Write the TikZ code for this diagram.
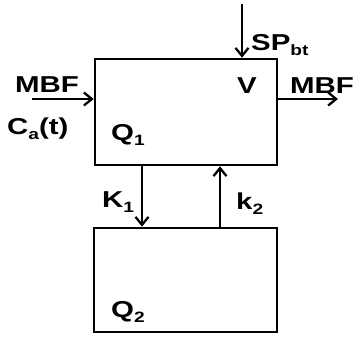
\documentclass[tikz,border=0pt]{standalone}
\usepackage{fontspec}
\setmainfont{Liberation Sans}
\usetikzlibrary{arrows.meta}
\newcommand\xw[1]{\scalebox{1.28}[1]{#1}}
\newcommand\sbs[1]{\raisebox{-5bp}{\fontsize{15bp}{16bp}\selectfont #1}}
\begin{document}
\begin{tikzpicture}[x=1bp,y=-1bp,
  lbl/.style={font=\fontsize{23bp}{26bp}\selectfont\bfseries, inner sep=0pt, anchor=base west},
  boxst/.style={draw, line width=2.6bp},
  arr/.style={line width=2.3bp, -{Straight Barb[length=8bp,width=13bp,line width=2.3bp]}}]
\useasboundingbox (0,0) rectangle (357,338);
\node[boxst, minimum width=182bp, minimum height=106bp, inner sep=0pt] (b1) at (186,112) {};
\node[boxst, minimum width=183bp, minimum height=104bp, inner sep=0pt] (b2) at (185.5,280) {};
\coordinate (spt) at (242,4);
\coordinate (inl) at (32,99);
\coordinate (outr) at (338,99);
\draw[arr] (spt) -- (spt |- b1.north);
\draw[arr] (inl) -- (inl -| b1.west);
\draw[arr] (outr -| b1.east) -- (outr);
\draw[arr] (142,165) coordinate (k1s) -- (k1s |- b2.north);
\draw[arr] (220,228) coordinate (k2s) -- (k2s |- b1.south);
\node[lbl] (mbf1) at (15,92) {\xw{MBF}};
\node[lbl] (ca) at (7,134) {\xw{C\sbs{a}(t)}};
\node[lbl] (q1) at (111,140) {\xw{Q\sbs{1}}};
\node[lbl] (v) at (237,93) {\xw{V}};
\node[lbl] (mbf2) at (290,93) {\xw{MBF}};
\node[lbl] (sp) at (251,50) {\xw{SP\sbs{bt}}};
\node[lbl] (k1) at (102,207) {\xw{K\sbs{1}}};
\node[lbl] (k2) at (236,209) {\xw{k\sbs{2}}};
\node[lbl] (q2) at (111,317) {\xw{Q\sbs{2}}};
\end{tikzpicture}
\end{document}
